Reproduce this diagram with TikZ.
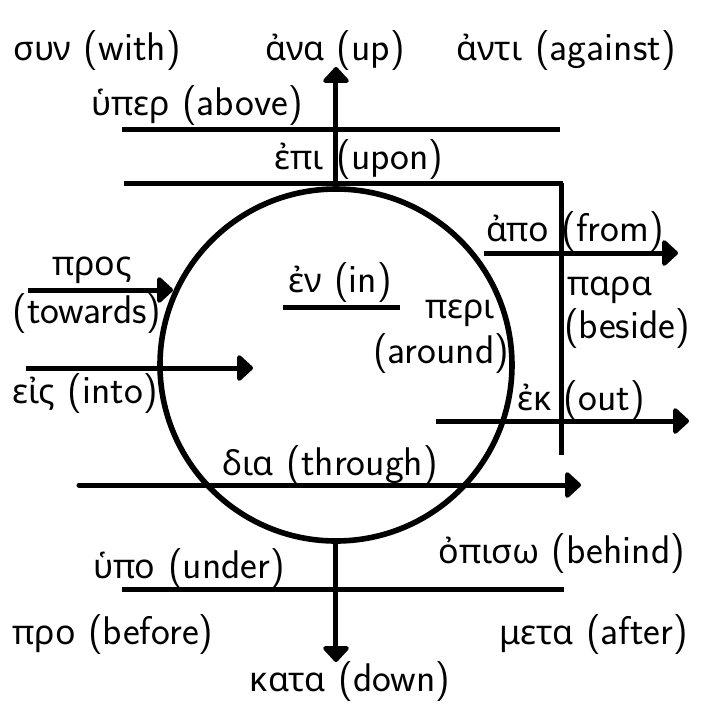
\documentclass[tikz,border=0pt]{standalone}
\usepackage{fontspec}
\newfontfamily\gk[Scale=0.85]{Noto Sans}
\usetikzlibrary{arrows.meta}
\tikzset{
  lbl/.style={inner sep=0pt, font=\sffamily\fontsize{20}{24}\selectfont},
  bar/.style={line width=2.5pt},
  arr/.style={line width=2.5pt, -{Triangle[width=15pt,length=8.5pt,round]}},
  ring/.style={circle, draw, line width=2.8pt, inner sep=0pt, minimum size=176pt}
}
\newcommand{\g}[1]{{\gk #1}}
\begin{document}
\begin{tikzpicture}[x=0.5pt,y=-0.5pt]
\useasboundingbox (0,0) rectangle (720,720);
\node[ring] (c) at (336,365) {};
% coordinates
\coordinate (uptip) at (336,67);
\coordinate (downtip) at (336,662);
\coordinate (hyperL) at (122,129); \coordinate (hyperR) at (560,129);
\coordinate (epiL) at (124,183);   \coordinate (epiR) at (563,183);
\coordinate (paraT) at (562,183);  \coordinate (paraB) at (562,455);
\coordinate (apoL) at (484,253);   \coordinate (apoR) at (678,253);
\coordinate (prosL) at (28,290);   \coordinate (prosR) at (173,290);
\coordinate (enL) at (283,307);    \coordinate (enR) at (400,307);
\coordinate (eisL) at (26,368);    \coordinate (eisR) at (253,368);
\coordinate (ekL) at (436,421);    \coordinate (ekR) at (689,421);
\coordinate (diaL) at (79,485);    \coordinate (diaR) at (581,485);
\coordinate (hypoL) at (122,589);  \coordinate (hypoR) at (564,589);
% lines
\draw[arr] (c.north) -- (uptip);
\draw[arr] (c.south) -- (downtip);
\draw[bar] (hyperL) -- (hyperR);
\draw[bar] (epiL) -- (epiR);
\draw[bar] (paraT) -- (paraB);
\draw[arr] (apoL) -- (apoR);
\draw[arr] (prosL) -- (prosR);
\draw[bar] (enL) -- (enR);
\draw[arr] (eisL) -- (eisR);
\draw[arr] (ekL) -- (ekR);
\draw[arr, line cap=round] (diaL) -- (diaR);
\draw[bar] (hypoL) -- (hypoR);
% labels
\node[lbl] (syn) at (97,51) {\g{συν} (with)};
\node[lbl] (ana) at (335,51) {\g{ἀνα} (up)};
\node[lbl] (anti) at (566,51) {\g{ἀντι} (against)};
\node[lbl] (hyper) at (197,106) {\g{ὑπερ} (above)};
\node[lbl] (epi) at (359,160) {\g{ἐπι} (upon)};
\node[lbl] (apo) at (575,232) {\g{ἀπο} (from)};
\node[lbl] (pros) at (92,270) {\g{προς}};
\node[lbl] (prosE) at (87,314) {(towards)};
\node[lbl] (en) at (340,283) {\g{ἐν} (in)};
\node[lbl] (peri) at (460,313) {\g{περι}};
\node[lbl] (periE) at (441,354) {(around)};
\node[lbl] (para) at (610,290) {\g{παρα}};
\node[lbl] (paraE) at (627,329) {(beside)};
\node[lbl] (eis) at (85,394) {\g{εἰς} (into)};
\node[lbl] (ek) at (581,401) {\g{ἐκ} (out)};
\node[lbl] (dia) at (330,466) {\g{δια} (through)};
\node[lbl] (opiso) at (562,554) {\g{ὀπισω} (behind)};
\node[lbl] (hypo) at (189,569) {\g{ὑπο} (under)};
\node[lbl] (pro) at (113,635) {\g{προ} (before)};
\node[lbl] (meta) at (594,635) {\g{μετα} (after)};
\node[lbl] (kata) at (350,682) {\g{κατα} (down)};
\end{tikzpicture}
\end{document}
